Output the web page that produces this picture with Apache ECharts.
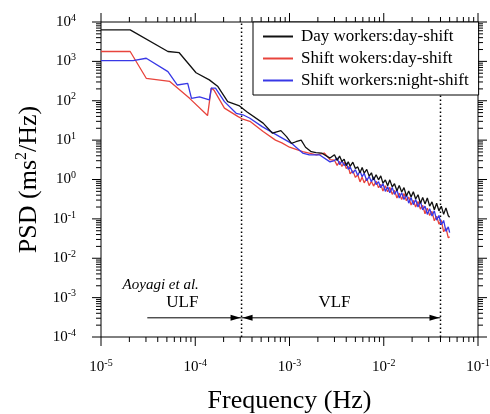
<!DOCTYPE html>
<html><head><meta charset="utf-8">
<script src="https://cdn.jsdelivr.net/npm/echarts@6/dist/echarts.min.js"></script>
<style>html,body{margin:0;padding:0;background:#fff}#c{width:490px;height:414px}</style>
</head><body><div id="c"></div>
<script>
// ---- data ----
const SERIES_NAMES = ['Day workers:day-shift', 'Shift wokers:day-shift', 'Shift workers:night-shift'];

// low-frequency part (Hz, ms^2/Hz)
const FREQ_DAY_LOW = [1e-5, 2.04e-5, 5.13e-5, 6.76e-5, 1.02e-4, 1.41e-4, 1.74e-4, 2.21e-4, 2.95e-4, 3.55e-4, 5.25e-4, 6.6e-4, 8.1e-4, 9.3e-4, 1.05e-3, 1.17e-3, 1.33e-3, 1.48e-3, 1.70e-3, 1.91e-3, 2.19e-3, 2.69e-3];
const PSD_DAY_LOW  = [6300, 6300, 1780, 1660, 513, 339, 229, 95, 74, 52, 27, 15, 17.4, 12.3, 8.3, 9.1, 10, 6.6, 5.1, 4.8, 4.7, 3.5];

const FREQ_SDAY_LOW = [1e-5, 2.04e-5, 3.02e-5, 5.37e-5, 8.71e-5, 1.35e-4, 1.48e-4, 1.58e-4, 2.04e-4, 2.82e-4, 3.2e-4, 3.8e-4, 5.25e-4, 7.1e-4, 8.3e-4, 1.0e-3, 1.38e-3, 1.93e-3, 2.34e-3, 2.69e-3];
const PSD_SDAY_LOW  = [1780, 1780, 372, 309, 115, 42, 209, 186, 65, 40, 34, 30, 16.6, 10, 8.5, 6.6, 5.1, 4.2, 4.7, 3.2];

const FREQ_SNIGHT_LOW = [1e-5, 2.19e-5, 3.02e-5, 5.13e-5, 6.46e-5, 8.32e-5, 9.12e-5, 1.11e-4, 1.41e-4, 1.48e-4, 1.64e-4, 2.04e-4, 2.72e-4, 3.2e-4, 3.8e-4, 5.13e-4, 7.85e-4, 1.05e-3, 1.38e-3, 1.62e-3, 2.09e-3, 2.69e-3];
const PSD_SNIGHT_LOW  = [1050, 1050, 1200, 550, 251, 275, 115, 126, 105, 209, 209, 95, 48, 44, 36, 22, 12.3, 8.3, 4.7, 4.2, 4.2, 2.8];

// high-frequency (noisy) part, shared frequencies
const FREQ_HIGH = [0.0030,0.0032,0.0034,0.0036,0.0038,0.0040,0.0042,0.0044,0.0047,0.0050,0.0053,0.0056,0.0059,0.0062,0.0066,0.0070,0.0074,0.0078,0.0083,0.0088,0.0093,0.0098,0.0104,0.0110,0.0116,0.0123,0.0130,0.0138,0.0146,0.0155,0.0164,0.0174,0.0184,0.0195,0.0206,0.0218,0.0231,0.0245,0.0259,0.0274,0.0290,0.0307,0.0325,0.0344,0.0364,0.0385,0.0408,0.0432,0.0457,0.0484,0.0500];
const PSD_DAY_HIGH = [4.26,3.06,3.94,2.86,3.30,2.25,2.81,2.16,2.76,1.90,2.09,1.49,2.02,1.45,1.81,1.22,1.48,0.98,1.32,0.98,1.24,0.81,0.97,0.69,0.98,0.65,0.78,0.52,0.70,0.48,0.62,0.38,0.51,0.36,0.49,0.32,0.41,0.25,0.35,0.24,0.34,0.21,0.27,0.17,0.25,0.16,0.21,0.13,0.19,0.12,0.11];
const PSD_SDAY_HIGH = [3.08,2.29,2.88,2.14,2.75,1.89,2.16,1.39,1.68,1.13,1.32,0.87,1.15,0.82,1.07,0.70,0.90,0.68,0.91,0.62,0.75,0.51,0.69,0.49,0.63,0.42,0.53,0.34,0.45,0.31,0.44,0.29,0.36,0.225,0.295,0.20,0.276,0.177,0.22,0.135,0.188,0.122,0.155,0.0895,0.117,0.074,0.091,0.047,0.059,0.033,0.035];
const PSD_SNIGHT_HIGH = [3.02,3.51,2.40,2.95,2.26,2.63,1.81,2.11,1.45,1.77,1.27,1.65,1.18,1.44,0.93,1.20,0.88,1.16,0.74,0.88,0.62,0.79,0.50,0.66,0.46,0.63,0.42,0.54,0.34,0.46,0.31,0.42,0.25,0.35,0.23,0.31,0.20,0.28,0.17,0.21,0.13,0.18,0.118,0.16,0.093,0.122,0.071,0.091,0.048,0.063,0.045];

const X_RANGE = [1e-5, 1e-1];
const Y_RANGE = [1e-4, 1e4];
const X_TICKS = [1e-5, 1e-4, 1e-3, 1e-2, 1e-1];
const Y_TICKS = [1e-4, 1e-3, 1e-2, 1e-1, 1e0, 1e1, 1e2, 1e3, 1e4];
const MINOR_MULT = [2, 3, 4, 5, 6, 7, 8, 9];

const ULF_BOUND = 3.1e-4, VLF_BOUND = 0.04;
const BOUNDS = [ULF_BOUND, VLF_BOUND];
// arrows: [from, to, level, heads(1=end,2=both)]
const ARROWS = [[3.1e-5, ULF_BOUND, 3.07e-4, 1], [ULF_BOUND, VLF_BOUND, 3.07e-4, 2]];
const BAND_LABELS = ['ULF', 'VLF'];
const AUTHOR_LABEL = 'Aoyagi et al.';

// ---- build ----
function pairs(f, p) { return f.map((v, i) => [v, p[i]]); }
function minors(ticks) {
  const out = [];
  ticks.slice(0, -1).forEach(t => MINOR_MULT.forEach(m => out.push(+(t * m).toPrecision(3))));
  return out;
}
const tickData = [].concat(
  X_TICKS.map(v => [v, Y_RANGE[0], 0]),
  minors(X_TICKS).map(v => [v, Y_RANGE[0], 1]),
  Y_TICKS.map(v => [X_RANGE[0], v, 2]),
  minors(Y_TICKS).map(v => [X_RANGE[0], v, 3])
);
const expOf = v => String(Math.round(Math.log10(v)));
const SERIF = 'Liberation Serif';
const supRich = {
  b: {fontSize: 15, fontFamily: SERIF, color: '#000', lineHeight: 18},
  s: {fontSize: 10, fontFamily: SERIF, color: '#000', lineHeight: 9, verticalAlign: 'top'}
};
const BLACK = {stroke: '#000', lineWidth: 1};

function renderTicks(params, api) {
  const x = api.value(0), y = api.value(1), kind = api.value(2);
  const len = (kind === 0 || kind === 2) ? 9 : 5;
  if (kind < 2) {
    const pb = api.coord([x, Y_RANGE[0]]), pt = api.coord([x, Y_RANGE[1]]);
    return {type: 'group', children: [
      {type: 'line', shape: {x1: pb[0], y1: pb[1], x2: pb[0], y2: pb[1] + len}, style: BLACK},
      {type: 'line', shape: {x1: pt[0], y1: pt[1], x2: pt[0], y2: pt[1] - len}, style: BLACK}
    ]};
  }
  const pl = api.coord([X_RANGE[0], y]), pr = api.coord([X_RANGE[1], y]);
  return {type: 'group', children: [
    {type: 'line', shape: {x1: pl[0], y1: pl[1], x2: pl[0] - len, y2: pl[1]}, style: BLACK},
    {type: 'line', shape: {x1: pr[0], y1: pr[1], x2: pr[0] + len, y2: pr[1]}, style: BLACK}
  ]};
}
function renderBounds(params, api) {
  const v = api.value(0);
  const p1 = api.coord([v, Y_RANGE[0]]), p2 = api.coord([v, Y_RANGE[1]]);
  return {type: 'line', shape: {x1: p1[0], y1: p1[1], x2: p2[0], y2: p2[1]},
          style: {stroke: '#000', lineWidth: 1.5, lineDash: [1.5, 2.5]}};
}
function renderArrows(params, api) {
  const x1 = api.value(0), x2 = api.value(1), lv = api.value(2), heads = api.value(3);
  const a = api.coord([x1, lv]), b = api.coord([x2, lv]);
  const hl = 10, hw = 3;
  const ch = [
    {type: 'line', shape: {x1: a[0], y1: a[1], x2: b[0], y2: b[1]}, style: BLACK},
    {type: 'polygon', shape: {points: [[b[0] - 1, b[1]], [b[0] - 1 - hl, b[1] - hw], [b[0] - 1 - hl, b[1] + hw]]}, style: {fill: '#000'}}
  ];
  if (heads === 2) ch.push({type: 'polygon', shape: {points: [[a[0] + 1, a[1]], [a[0] + 1 + hl, a[1] - hw], [a[0] + 1 + hl, a[1] + hw]]}, style: {fill: '#000'}});
  return {type: 'group', children: ch};
}

const textStyleBand = {fontFamily: SERIF, fontSize: 17, color: '#000'};

const option = {
  animation: false,
  backgroundColor: '#fff',
  grid: {left: 101, right: 12, top: 22, bottom: 77, outerBoundsMode: 'none',
         show: true, borderColor: '#000', borderWidth: 1, backgroundColor: 'transparent'},
  legend: {
    data: SERIES_NAMES, orient: 'vertical', left: 253, top: 22,
    backgroundColor: '#fff', borderColor: '#000', borderWidth: 1, borderRadius: 0,
    padding: [6, 10, 6, 10], itemGap: 5, itemWidth: 30, itemHeight: 2, icon: 'rect',
    textStyle: {fontFamily: SERIF, fontSize: 17, lineHeight: 16, color: '#000', padding: [0, 0, 0, 3]}
  },
  xAxis: {
    type: 'log', logBase: 10, min: X_RANGE[0], max: X_RANGE[1],
    axisLine: {show: false}, axisTick: {show: false}, splitLine: {show: false}, minorTick: {show: false},
    axisLabel: {show: true, customValues: X_TICKS, margin: 21,
      formatter: v => '{b|10}{s|' + expOf(v) + '}', rich: supRich},
    name: 'Frequency (Hz)', nameLocation: 'middle', nameGap: 55,
    nameTextStyle: {fontFamily: SERIF, fontSize: 26, lineHeight: 18, color: '#000'}
  },
  yAxis: {
    type: 'log', logBase: 10, min: Y_RANGE[0], max: Y_RANGE[1],
    axisLine: {show: false}, axisTick: {show: false}, splitLine: {show: false}, minorTick: {show: false},
    axisLabel: {show: true, customValues: Y_TICKS, margin: 25,
      formatter: v => '{b|10}{s|' + expOf(v) + '}', rich: supRich},
    name: '{t|PSD (ms}{u|2}{t|/Hz)}', nameLocation: 'middle', nameGap: 48, nameRotate: 90,
    nameTextStyle: {rich: {
      t: {fontFamily: SERIF, fontSize: 26, color: '#000', lineHeight: 30},
      u: {fontFamily: SERIF, fontSize: 16, color: '#000', lineHeight: 14, verticalAlign: 'top'}
    }}
  },
  series: [
    {type: 'custom', renderItem: renderTicks, data: tickData, silent: true, clip: false, z: 5,
     encode: {x: 0, y: 1}},
    {type: 'custom', renderItem: renderBounds, data: BOUNDS.map(v => [v, Y_RANGE[0]]), silent: true, clip: false, z: 1,
     encode: {x: 0, y: 1}},
    {type: 'custom', renderItem: renderArrows, data: ARROWS, silent: true, clip: false, z: 1,
     encode: {x: 0, y: 2}},
    {name: SERIES_NAMES[1], type: 'line', symbol: 'none', data: pairs(FREQ_SDAY_LOW.concat(FREQ_HIGH), PSD_SDAY_LOW.concat(PSD_SDAY_HIGH)),
     lineStyle: {color: '#e8443c', width: 1.3}, itemStyle: {color: '#e8443c'}, z: 2},
    {name: SERIES_NAMES[2], type: 'line', symbol: 'none', data: pairs(FREQ_SNIGHT_LOW.concat(FREQ_HIGH), PSD_SNIGHT_LOW.concat(PSD_SNIGHT_HIGH)),
     lineStyle: {color: '#3838e6', width: 1.3}, itemStyle: {color: '#3838e6'}, z: 3},
    {name: SERIES_NAMES[0], type: 'line', symbol: 'none', data: pairs(FREQ_DAY_LOW.concat(FREQ_HIGH), PSD_DAY_LOW.concat(PSD_DAY_HIGH)),
     lineStyle: {color: '#111', width: 1.3}, itemStyle: {color: '#111'}, z: 4,
     markPoint: {
       silent: true, symbol: 'circle', symbolSize: 0, animation: false,
       label: {show: true, position: 'inside'},
       data: [
         {coord: [7.3e-5, 7.4e-4], label: Object.assign({formatter: BAND_LABELS[0]}, textStyleBand)},
         {coord: [3.0e-3, 7.4e-4], label: Object.assign({formatter: BAND_LABELS[1]}, textStyleBand)},
         {coord: [4.3e-5, 2.1e-3], label: {formatter: AUTHOR_LABEL, fontFamily: SERIF, fontStyle: 'italic', fontSize: 15, color: '#000'}}
       ]
     }
    }
  ]
};
const chart = echarts.init(document.getElementById('c'), null, {renderer: 'canvas'});
chart.setOption(option);
</script></body></html>
